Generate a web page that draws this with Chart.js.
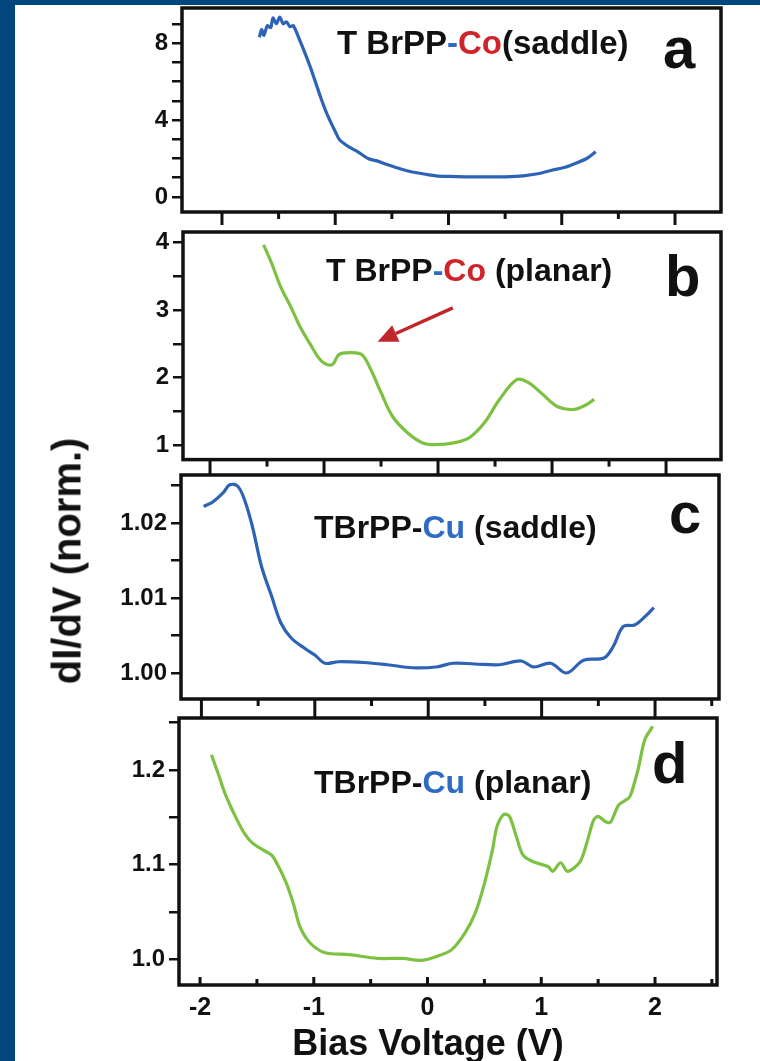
<!DOCTYPE html>
<html>
<head>
<meta charset="utf-8">
<script src="https://cdn.jsdelivr.net/npm/chart.js@4.4.1/dist/chart.umd.min.js"></script>
<style>
  html, body { margin: 0; padding: 0; background: #fff; }
  body { width: 760px; height: 1061px; position: relative; overflow: hidden; font-family: "Liberation Sans", Arial, sans-serif; }
  #edgeL { position: absolute; left: 0; top: 0; width: 15px; height: 1061px; background: #02467e; }
  #edgeT { position: absolute; left: 0; top: 0; width: 760px; height: 5px; background: #02467e; }
  canvas { position: absolute; }
  .lbl { position: absolute; white-space: nowrap; transform: translateY(-50%); color: #111; }
  .ttl { font-size: 32px; font-weight: bold; }
  .let { font-size: 58px; font-weight: bold; }
  .red { color: #d0232b; }
  .blu { color: #2d6bc4; }
  #ytitle { position: absolute; left: 67px; top: 561px; transform: translate(-50%, -50%) rotate(-90deg);
            font-size: 40px; font-weight: bold; white-space: nowrap; color: #111; }
  #xtitle { position: absolute; left: 428px; top: 1043px; transform: translate(-50%, -50%);
            font-size: 36px; font-weight: bold; white-space: nowrap; color: #111; }
</style>
</head>
<body>
<div id="edgeL"></div>
<div id="edgeT"></div>

<canvas id="panelA"></canvas>
<canvas id="panelB"></canvas>
<canvas id="panelC"></canvas>
<canvas id="panelD"></canvas>

<div class="lbl ttl" style="left:337px;top:43px;font-size:33px">T BrPP<span class="blu">-</span><span class="red">Co</span>(saddle)</div>
<div class="lbl ttl" style="left:326px;top:270px">T BrPP<span class="blu">-</span><span class="red">Co</span> (planar)</div>
<div class="lbl ttl" style="left:314px;top:527px">TBrPP-<span class="blu">Cu</span> (saddle)</div>
<div class="lbl ttl" style="left:314px;top:782px">TBrPP-<span class="blu">Cu</span> (planar)</div>
<div class="lbl let" style="left:663px;top:47px">a</div>
<div class="lbl let" style="left:665px;top:275px">b</div>
<div class="lbl let" style="left:669px;top:512px">c</div>
<div class="lbl let" style="left:652px;top:762px">d</div>
<div id="ytitle">dI/dV (norm.)</div>
<div id="xtitle">Bias Voltage (V)</div>

<script>
// a : TBrPP-Co saddle (bias in V, dI/dV normalised)
var voltA = [-1.67, -1.65, -1.63, -1.60, -1.57, -1.55, -1.52, -1.49, -1.46, -1.43, -1.40, -1.37, -1.31, -1.22, -1.13, -1.075, -1.0, -0.96, -0.88, -0.80, -0.71, -0.62, -0.53, -0.42, -0.32, -0.20, -0.11, 0.0, 0.15, 0.32, 0.50, 0.66, 0.80, 0.92, 1.03, 1.13, 1.22, 1.30];
var didvA = [8.3, 8.7, 8.4, 8.9, 8.8, 9.3, 9.0, 9.35, 9.0, 9.1, 8.85, 8.9, 8.1, 6.75, 5.2, 4.35, 3.4, 2.96, 2.6, 2.35, 2.0, 1.85, 1.66, 1.45, 1.3, 1.18, 1.1, 1.07, 1.05, 1.04, 1.05, 1.1, 1.22, 1.4, 1.55, 1.77, 2.0, 2.35];

// b : TBrPP-Co planar
var voltB = [-1.53, -1.46, -1.38, -1.29, -1.21, -1.12, -1.02, -0.93, -0.87, -0.78, -0.67, -0.59, -0.50, -0.40, -0.27, -0.14, -0.02, 0.15, 0.28, 0.41, 0.54, 0.69, 0.79, 0.92, 1.05, 1.19, 1.30, 1.37];
var didvB = [3.96, 3.69, 3.34, 3.04, 2.75, 2.49, 2.24, 2.19, 2.34, 2.37, 2.34, 2.12, 1.78, 1.43, 1.19, 1.04, 1.01, 1.04, 1.12, 1.34, 1.68, 1.97, 1.93, 1.75, 1.57, 1.53, 1.60, 1.68];
var arrowFromB = [0.13, 3.03];
var arrowToB = [-0.53, 2.53];

// c : TBrPP-Cu saddle
var voltC = [-1.98, -1.90, -1.81, -1.75, -1.68, -1.62, -1.55, -1.47, -1.38, -1.30, -1.21, -1.09, -1.0, -0.91, -0.79, -0.57, -0.36, -0.14, 0.07, 0.22, 0.41, 0.63, 0.82, 0.93, 1.08, 1.22, 1.37, 1.55, 1.63, 1.72, 1.82, 1.91, 1.99];
var didvC = [1.0222, 1.0228, 1.0240, 1.0251, 1.0249, 1.0231, 1.0195, 1.0142, 1.0102, 1.0067, 1.0047, 1.0033, 1.0024, 1.0013, 1.0015, 1.0014, 1.0011, 1.0007, 1.0008, 1.0013, 1.0012, 1.0011, 1.0016, 1.0008, 1.0013, 1.0000, 1.0017, 1.0020, 1.0035, 1.0062, 1.0064, 1.0075, 1.0087];

// d : TBrPP-Cu planar
var voltD = [-1.90, -1.84, -1.78, -1.69, -1.61, -1.54, -1.44, -1.37, -1.31, -1.24, -1.18, -1.12, -1.03, -0.90, -0.69, -0.44, -0.22, -0.05, 0.08, 0.21, 0.33, 0.42, 0.50, 0.57, 0.61, 0.67, 0.72, 0.78, 0.84, 0.93, 1.06, 1.10, 1.17, 1.23, 1.34, 1.40, 1.46, 1.50, 1.57, 1.61, 1.68, 1.74, 1.78, 1.85, 1.91, 1.98];
var didvD = [1.216, 1.196, 1.175, 1.151, 1.133, 1.123, 1.115, 1.110, 1.098, 1.080, 1.059, 1.034, 1.017, 1.007, 1.005, 1.001, 1.001, 0.999, 1.003, 1.010, 1.028, 1.049, 1.080, 1.115, 1.140, 1.153, 1.151, 1.130, 1.110, 1.103, 1.098, 1.093, 1.102, 1.093, 1.103, 1.123, 1.147, 1.151, 1.145, 1.145, 1.163, 1.168, 1.172, 1.200, 1.232, 1.246];

var xTicksD = [-2, -1, 0, 1, 2];

var BLUE = '#2d63b6', GREEN = '#7dc143';

// boxes of the four panels in page pixels, plus the axis ranges they show
var panels = [
  { id: 'panelA', l: 182, r: 721, t: 8, b: 212, xh: 20, xmin: -2.353, xmax: 2.406, ymin: -0.78, ymax: 9.82, step: 1,
    lab: function (v) { return Math.abs(v % 4) < 1e-6 ? String(Math.round(v)) : ''; },
    volt: voltA, didv: didvA, color: BLUE, major: 13, minor: 7, tension: 0.25 },
  { id: 'panelB', l: 183, r: 721, t: 232, b: 460, xh: 18, xmin: -2.237, xmax: 2.482, ymin: 0.79, ymax: 4.15, step: 0.5,
    lab: function (v) { return Math.abs(v - Math.round(v)) < 1e-6 ? String(Math.round(v)) : ''; },
    volt: voltB, didv: didvB, color: GREEN, major: 15, minor: 7, tension: 0.35, arrow: [arrowFromB, arrowToB] },
  { id: 'panelC', l: 181, r: 719, t: 475, b: 699, xh: 22, xmin: -2.18, xmax: 2.564, ymin: 0.99653, ymax: 1.0264, step: 0.005,
    lab: function (v) { var k = Math.round(v * 1000); return k % 10 === 0 ? (k / 1000).toFixed(2) : ''; },
    volt: voltC, didv: didvC, color: BLUE, major: 19, minor: 7, tension: 0.35 },
  { id: 'panelD', l: 179, r: 717, t: 718, b: 985, xh: 45, xmin: -2.185, xmax: 2.545, ymin: 0.9729, ymax: 1.2549, step: 0.05,
    lab: function (v) { var k = Math.round(v * 100); return k % 10 === 0 ? (k / 100).toFixed(1) : ''; },
    volt: voltD, didv: didvD, color: GREEN, major: -8, minor: -6, tension: 0.3, last: true }
];

var YW = 100, PAD = 22;

var framePlugin = {
  id: 'frame',
  afterDraw: function (chart, args, opts) {
    var ctx = chart.ctx, a = chart.chartArea, xs = chart.scales.x;
    ctx.save();
    ctx.strokeStyle = '#111';
    ctx.lineWidth = 3.5;
    ctx.strokeRect(a.left, a.top, a.right - a.left, a.bottom - a.top);
    ctx.lineWidth = 3;
    for (var v = Math.ceil(xs.min * 2) / 2; v <= xs.max; v += 0.5) {
      var px = xs.getPixelForValue(v);
      var major = Math.abs(v - Math.round(v)) < 1e-6;
      ctx.beginPath();
      ctx.moveTo(px, a.bottom);
      ctx.lineTo(px, a.bottom + (major ? opts.major : opts.minor));
      ctx.stroke();
    }
    if (opts.arrow) {
      var ys = chart.scales.y;
      var x0 = xs.getPixelForValue(opts.arrow[0][0]), y0 = ys.getPixelForValue(opts.arrow[0][1]);
      var x1 = xs.getPixelForValue(opts.arrow[1][0]), y1 = ys.getPixelForValue(opts.arrow[1][1]);
      var ang = Math.atan2(y1 - y0, x1 - x0), hl = 20, hw = 9;
      var bx = x1 - hl * Math.cos(ang), by = y1 - hl * Math.sin(ang);
      ctx.strokeStyle = '#c0272d';
      ctx.fillStyle = '#c0272d';
      ctx.lineWidth = 3.5;
      ctx.beginPath(); ctx.moveTo(x0, y0); ctx.lineTo(bx, by); ctx.stroke();
      ctx.beginPath();
      ctx.moveTo(x1, y1);
      ctx.lineTo(bx + hw * Math.sin(ang), by - hw * Math.cos(ang));
      ctx.lineTo(bx - hw * Math.sin(ang), by + hw * Math.cos(ang));
      ctx.closePath(); ctx.fill();
    }
    ctx.restore();
  }
};

panels.forEach(function (p) {
  var cv = document.getElementById(p.id);
  var w = (p.r - p.l) + YW + PAD, h = (p.b - p.t) + PAD + p.xh;
  cv.width = w; cv.height = h;
  cv.style.left = (p.l - YW) + 'px';
  cv.style.top = (p.t - PAD) + 'px';
  cv.style.width = w + 'px';
  cv.style.height = h + 'px';

  var pts = p.volt.map(function (v, i) { return { x: v, y: p.didv[i] }; });

  new Chart(cv, {
    type: 'line',
    data: { datasets: [{ data: pts, borderColor: p.color, borderWidth: 3.2, pointRadius: 0, tension: p.tension, fill: false }] },
    options: {
      responsive: false,
      animation: false,
      devicePixelRatio: 1,
      layout: { padding: { top: PAD, right: PAD, left: 0, bottom: 0 } },
      plugins: {
        legend: { display: false },
        tooltip: { enabled: false },
        frame: { major: p.major, minor: p.minor, arrow: p.arrow }
      },
      scales: {
        x: {
          type: 'linear', min: p.xmin, max: p.xmax,
          afterFit: function (s) { s.height = p.xh; },
          grid: { display: false, drawTicks: false },
          border: { display: false },
          ticks: {
            display: !!p.last, stepSize: 1, includeBounds: false, autoSkip: false, padding: 8,
            color: '#111', font: { family: 'Liberation Sans', size: 25, weight: 'bold' },
            callback: function (v) { return xTicksD.indexOf(v) >= 0 ? String(v) : ''; }
          }
        },
        y: {
          type: 'linear', min: p.ymin, max: p.ymax,
          afterFit: function (s) { s.width = YW; },
          grid: { display: true, drawOnChartArea: false, drawTicks: true, tickLength: 10, color: '#111', lineWidth: 2.5 },
          border: { display: false },
          ticks: {
            stepSize: p.step, includeBounds: false, autoSkip: false, padding: 4,
            color: '#111', font: { family: 'Liberation Sans', size: 24, weight: 'bold' },
            callback: p.lab
          }
        }
      }
    },
    plugins: [framePlugin]
  });
});
</script>
</body>
</html>
